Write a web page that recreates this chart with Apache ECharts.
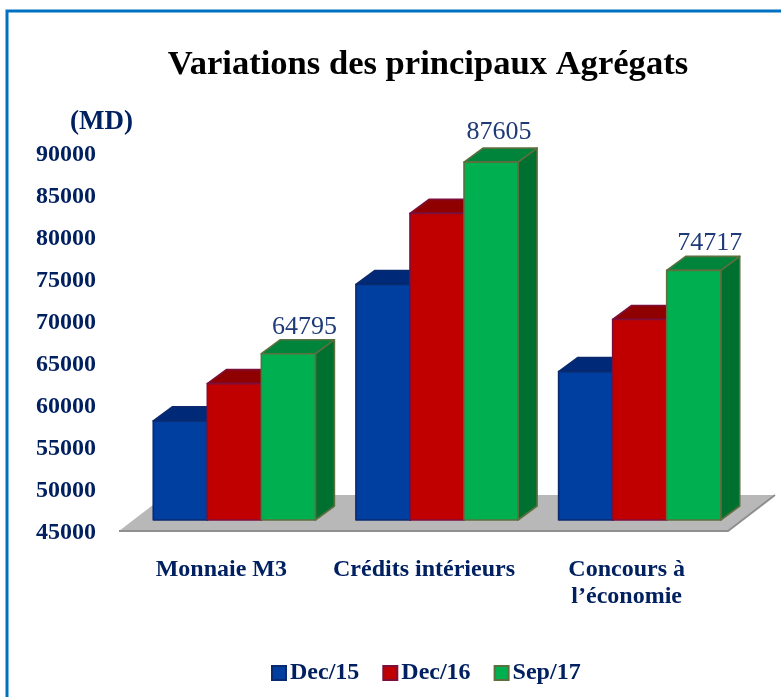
<!DOCTYPE html>
<html><head><meta charset="utf-8">
<style>html,body{margin:0;padding:0;background:#fff}#c{width:781px;height:697px}</style>
<script src="https://cdn.jsdelivr.net/npm/echarts@6/dist/echarts.min.js"></script>
</head><body><div id="c"></div>
<script>
const categories = ['Monnaie M3', 'Crédits intérieurs', 'Concours à\nl’économie'];
const dec15 = [56800, 73040, 62660];
const dec16 = [61230, 81500, 68870];
const sep17 = [64795, 87605, 74717];
const seriesNames = ['Dec/15', 'Dec/16', 'Sep/17'];
const titleText = 'Variations des principaux Agrégats';
const unitText = '(MD)';

const NAVY = '#002060', SERIF = '"Liberation Serif", serif';
const palette = [
  {front:'#003f9f', top:'#002a78', side:'#002a78', edge:'#0b2a6e'},
  {front:'#c00000', top:'#8f0000', side:'#8f0000', edge:'#7d0f3c'},
  {front:'#00b050', top:'#00843c', side:'#007030', edge:'#5c6f3e'}
];
const lift = 13, dx = 19, dy = 14, barRatio = 54 / 202.5;
const labelShift = [[16,-27],[8,-30],[16,-27]];

function bar3d(sIdx){
  return function(params, api){
    const c = palette[sIdx];
    const pt = api.coord([api.value(0), api.value(1)]);
    const base = api.coord([api.value(0), 45000]);
    const w = api.size([1,0])[0] * barRatio;
    const x0 = pt[0] + (sIdx - 1.5) * w, x1 = x0 + w;
    const yt = pt[1] - lift, yb = base[1] - lift;
    const st = {stroke:c.edge, lineWidth:1.6, lineJoin:'round'};
    const kids = [
      {type:'polygon', shape:{points:[[x1,yb],[x1+dx,yb-dy],[x1+dx,yt-dy],[x1,yt]]}, style:Object.assign({fill:c.side},st)},
      {type:'polygon', shape:{points:[[x0,yt],[x0+dx,yt-dy],[x1+dx,yt-dy],[x1,yt]]}, style:Object.assign({fill:c.top},st)},
      {type:'rect', shape:{x:x0,y:yt,width:w,height:yb-yt}, style:Object.assign({fill:c.front},st)}
    ];
    if (sIdx === 2) {
      const s = labelShift[params.dataIndex];
      kids.push({type:'text', style:{text:String(api.value(1)), x:x0+w/2+s[0], y:yt+s[1],
        font:'26px '+SERIF, fill:'#1f3a78', align:'center', verticalAlign:'middle'}});
    }
    return {type:'group', children:kids};
  };
}

const chart = echarts.init(document.getElementById('c'), null, {renderer:'canvas'});
const allValues = [dec15, dec16, sep17];
chart.setOption({
  animation:false,
  backgroundColor:'#fff',
  title:{text:titleText, left:423, top:43, textAlign:'center',
    textStyle:{fontFamily:SERIF, fontSize:34.6, fontWeight:'bold', color:'#000'}},
  legend:{left:266, top:656, itemWidth:14, itemHeight:14, itemGap:23, icon:'rect', data:seriesNames,
    textStyle:{fontFamily:SERIF, fontSize:24, fontWeight:'bold', color:NAVY, padding:[0,0,0,-1]}},
  grid:{left:133, right:40, top:155, bottom:164},
  xAxis:{type:'category', data:categories,
    axisLine:{show:false}, axisTick:{show:false},
    axisLabel:{interval:0, margin:23, padding:[0,26,0,0], lineHeight:27, align:'center',
      fontFamily:SERIF, fontSize:24, fontWeight:'bold', color:NAVY}},
  yAxis:{type:'value', min:45000, max:90000, interval:5000,
    name:unitText, nameLocation:'end', nameGap:33,
    nameTextStyle:{align:'right', verticalAlign:'middle', fontFamily:SERIF, fontSize:27, fontWeight:'bold', color:NAVY},
    axisLine:{show:false}, axisTick:{show:false}, splitLine:{show:false},
    axisLabel:{margin:37, formatter:v=>String(v), fontFamily:SERIF, fontSize:24, fontWeight:'bold', color:NAVY}},
  graphic:[
    {type:'polyline', z:0, shape:{points:[[7,697],[7,11],[781,11]]}, style:{stroke:'#0070c0', lineWidth:3, fill:null}},
    {type:'polygon', z:0, shape:{points:[[119,531],[728,531],[775,495],[166,495]]},
      style:{fill:'#b8b8b8'}},
    {type:'polyline', z:0, shape:{points:[[119,531],[728,531],[775,495]]},
      style:{stroke:'#8f8f8f', lineWidth:2, fill:null}}
  ],
  series: allValues.map((vals,i)=>({
    type:'custom', name:seriesNames[i], coordinateSystem:'cartesian2d',
    encode:{x:0,y:1}, clip:false, silent:true,
    itemStyle:{color:palette[i].front, borderColor:palette[i].edge, borderWidth:2},
    renderItem:bar3d(i),
    data:vals.map((v,j)=>[j,v])
  }))
});
</script></body></html>
